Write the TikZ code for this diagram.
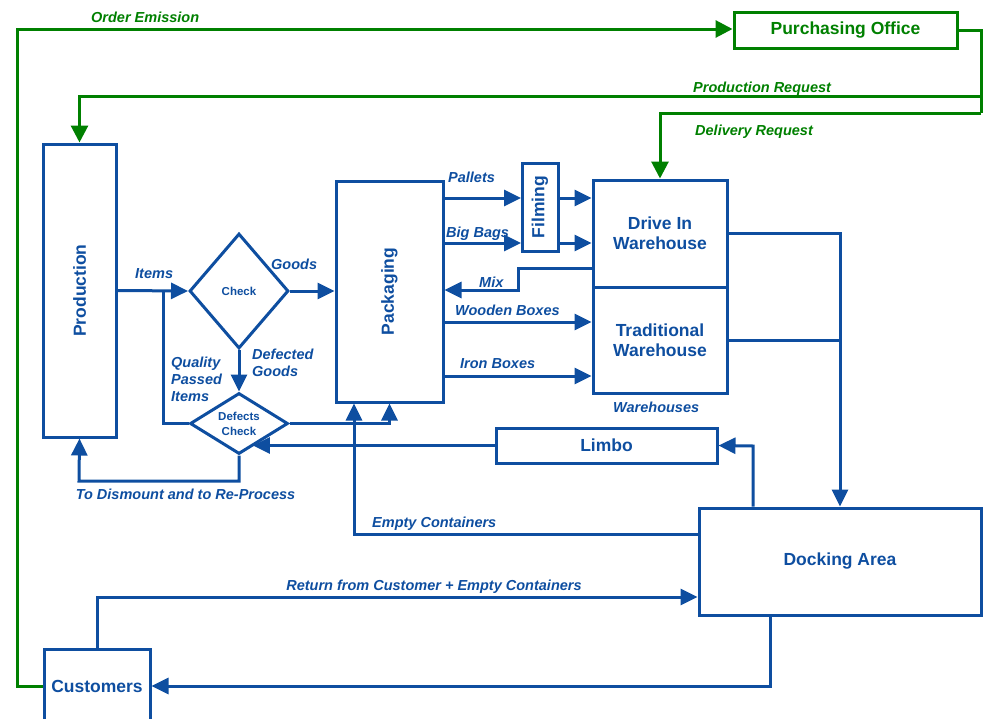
\documentclass[tikz,border=0pt]{standalone}
\usepackage{fontspec}
\setmainfont{Liberation Sans}
\usetikzlibrary{shapes.geometric,arrows.meta}
\definecolor{myblue}{RGB}{14,78,160}
\definecolor{mygreen}{RGB}{0,128,0}
\newcommand\boxfont{\fontsize{17.5}{20}\bfseries\selectfont}
\newcommand\smallboxfont{\fontsize{11.5}{15}\bfseries\selectfont}
\newcommand\lblfont{\fontsize{14.5}{17}\bfseries\itshape\selectfont}
\tikzset{
  box/.style={rectangle, draw=myblue, line width=3pt, text=myblue, font=\boxfont, align=center, inner sep=0pt},
  gbox/.style={box, draw=mygreen, text=mygreen},
  dia/.style={diamond, draw=myblue, line width=3pt, text=myblue, font=\smallboxfont, align=center, inner sep=0pt},
  arr/.style={draw=myblue, line width=3pt, -{Triangle[length=17pt,width=16pt]}},
  ln/.style={draw=myblue, line width=3pt},
  garr/.style={draw=mygreen, line width=3pt, -{Triangle[length=17pt,width=17pt]}},
  gln/.style={draw=mygreen, line width=3pt},
  lbl/.style={text=myblue, font=\lblfont, inner sep=0pt, align=left},
  glbl/.style={lbl, text=mygreen},
}
\begin{document}
\begin{tikzpicture}[x=1pt,y=-1pt]
\useasboundingbox (0,0) rectangle (983,718);
% nodes
\node[gbox, minimum width=223pt, minimum height=36pt] (po) at (845.5,30) {Purchasing Office};
\node[box, minimum width=73pt, minimum height=293pt] (prod) at (79.5,290.5) {\rotatebox{90}{Production}};
\node[dia, minimum width=99pt, minimum height=115pt, shape aspect=0.86] (check) at (239,291) {Check};
\node[dia, minimum width=98pt, minimum height=61pt, shape aspect=1.6] (dc) at (239,423.5) {Defects\\Check};
\node[box, minimum width=107pt, minimum height=221pt] (pack) at (389.5,291.5) {\rotatebox{90}{Packaging}};
\node[box, minimum width=36pt, minimum height=88pt] (film) at (540,207) {\rotatebox{90}{Filming}};
\node[box, minimum width=134pt, minimum height=107pt] (diw) at (660,233.5) {Drive In\\Warehouse};
\node[box, minimum width=134pt, minimum height=106pt] (tw) at (660,340) {Traditional\\Warehouse};
\node[box, minimum width=221pt, minimum height=35pt] (limbo) at (606.5,445.5) {Limbo};
\node[box, minimum width=282pt, minimum height=107pt] (dock) at (840,561.5) {Docking Area};
\node[box, minimum width=106pt, minimum height=74pt] (cust) at (97,686) {Customers};
% coordinates
\coordinate (qp) at (163,291);
\coordinate (dm) at (79,481);
\coordinate (ec) at (354,534);
\coordinate (pal) at (521,198);
\coordinate (bb) at (521,243);
\coordinate (mx) at (518,268);
\coordinate (mx2) at (518,290);
\coordinate (wb) at (500,322);
\coordinate (ib) at (500,376);
\coordinate (dl) at (753,446);
\coordinate (rt) at (97,597);
\coordinate (dcu) at (770,686);
\coordinate (oe) at (17,29);
\coordinate (pr) at (981,96);
\coordinate (dr) at (981,113);
% blue connectors
\draw[arr] (prod.east) -- (check.west);
\draw[ln] (dc.west) -| (qp);
\draw[arr] (check.east) -- (check.east -| pack.west);
\draw[arr] (check.south) -- (dc.north);
\draw[arr] (dc.east) -| (pack.south);
\draw[arr] (dc.south) |- (dm) -- (prod.south);
\draw[arr] (limbo.west) -- (limbo.west -| dc.-59);
\draw[arr] (dock.west |- ec) -- (ec) -- (ec |- pack.south);
\draw[arr] (pal -| pack.east) -- (pal);
\draw[arr] (bb -| pack.east) -- (bb);
\draw[arr] (pal -| film.east) -- (pal -| diw.west);
\draw[arr] (bb -| film.east) -- (bb -| diw.west);
\draw[arr] (mx -| diw.west) -- (mx) -- (mx2) -- (mx2 -| pack.east);
\draw[arr] (wb -| pack.east) -- (wb -| tw.west);
\draw[arr] (ib -| pack.east) -- (ib -| tw.west);
\draw[arr] (diw.east) -| (dock.north);
\draw[ln] (tw.east) -- (tw.east -| dock.north);
\draw[arr] (dl |- dock.north) -- (dl) -- (limbo.east);
\draw[arr] (rt |- cust.north) -- (rt) -- (rt -| dock.west);
\draw[arr] (dcu |- dock.south) -- (dcu) -- (cust.east);
% green connectors
\draw[garr] (cust.west) -| (oe) -- (oe -| po.west);
\draw[gln] (po.east) -| (dr);
\draw[garr] (pr) -| (prod.north);
\draw[garr] (dr) -| (diw.north);
% labels
\node[glbl, anchor=base west] (l1) at (91,22) {Order Emission};
\node[glbl, anchor=base west] (l2) at (693,92) {Production Request};
\node[glbl, anchor=base west] (l3) at (695,135) {Delivery Request};
\node[lbl, anchor=base west] (l4) at (135,278) {Items};
\node[lbl, anchor=base west] (l5) at (271,269) {Goods};
\node[lbl, anchor=west] (l6) at (171,379) {Quality\\Passed\\Items};
\node[lbl, anchor=west] (l7) at (252,363) {Defected\\Goods};
\node[lbl, anchor=base] (l8) at (185.5,499) {To Dismount and to Re-Process};
\node[lbl, anchor=base west] (l9) at (448,182) {Pallets};
\node[lbl, anchor=base west] (l10) at (446,237) {Big Bags};
\node[lbl, anchor=base west] (l11) at (479,287) {Mix};
\node[lbl, anchor=base west] (l12) at (455,315) {Wooden Boxes};
\node[lbl, anchor=base west] (l13) at (460,368) {Iron Boxes};
\node[lbl, anchor=base west] (l14) at (613,412) {Warehouses};
\node[lbl, anchor=base west] (l15) at (372,527) {Empty Containers};
\node[lbl, anchor=base] (l16) at (434,590) {Return from Customer + Empty Containers};
\end{tikzpicture}
\end{document}
